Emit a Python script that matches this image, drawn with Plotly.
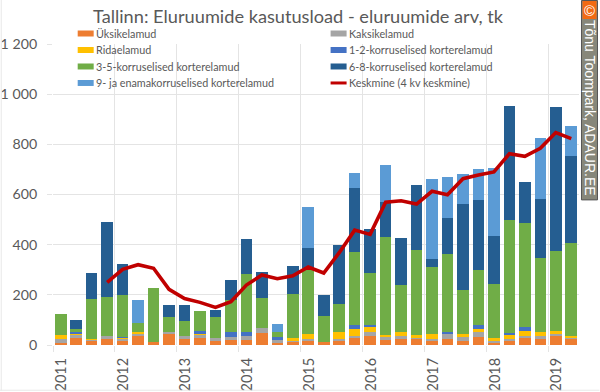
import plotly.graph_objects as go

TITLE = "Tallinn: Eluruumide kasutusload - eluruumide arv, tk"
YEARS = ["2011", "2012", "2013", "2014", "2015", "2016", "2017", "2018", "2019"]
Y_TICKS = [0, 200, 400, 600, 800, 1000, 1200]
Y_LABELS = ["0", "200", "400", "600", "800", "1 000", "1 200"]
QUARTERS = list(range(34))

names = ["Üksikelamud", "Kaksikelamud", "Ridaelamud", "1-2-korruselised korterelamud",
         "3-5-korruselised korterelamud", "6-8-korruselised korterelamud",
         "9- ja enamakorruselised korterelamud"]
line_name = "Keskmine (4 kv keskmine)"
colors = ["#ED7D31", "#A5A5A5", "#FFC000", "#4472C4", "#70AD47", "#255E91", "#5B9BD5"]

yksik = [9, 29, 17, 24, 16, 36, 13, 45, 24, 29, 16, 20, 20, 49, 8, 15, 16, 12, 16, 29, 37, 21, 25,
         24, 16, 24, 17, 31, 8, 17, 29, 25, 36, 24]
kaksik = [15, 11, 3, 12, 11, 11, 0, 7, 12, 11, 12, 12, 16, 19, 12, 1, 9, 0, 9, 8, 16, 11, 11,
          5, 7, 23, 13, 21, 7, 7, 7, 11, 7, 5]
rida = [17, 3, 4, 0, 2, 5, 0, 0, 0, 4, 0, 0, 0, 0, 0, 12, 19, 0, 27, 27, 19, 8, 15,
        11, 20, 0, 15, 12, 11, 17, 21, 15, 12, 7]
k12 = [0, 9, 0, 0, 3, 0, 0, 0, 0, 12, 0, 20, 16, 0, 11, 0, 0, 0, 0, 15, 7, 0, 0,
       0, 0, 5, 0, 16, 0, 5, 13, 0, 0, 0]
k35 = [84, 12, 160, 155, 169, 35, 214, 60, 60, 81, 85, 128, 231, 119, 20, 175, 262, 104, 112, 292, 210, 390, 187,
       339, 269, 312, 173, 219, 217, 453, 415, 295, 319, 372]
k68 = [0, 37, 105, 298, 122, 0, 0, 48, 63, 0, 27, 80, 140, 104, 0, 112, 82, 82, 233, 255, 174, 140, 187,
       258, 31, 141, 344, 279, 193, 452, 163, 237, 575, 347]
k9 = [0, 0, 0, 0, 0, 93, 0, 0, 0, 0, 0, 0, 0, 0, 33, 0, 163, 0, 0, 59, 0, 148, 0,
      0, 319, 163, 118, 122, 270, 0, 0, 243, 0, 117]
keskmine = [None, None, None, 250, 302, 320, 306, 222, 185, 170, 150, 173, 239, 279, 264, 276, 311, 287, 368, 458,
            441, 569, 575, 562, 613, 599, 663, 678, 690, 763, 752, 784, 847, 823]
series = [yksik, kaksik, rida, k12, k35, k68, k9]

W, H = 600, 392
L, R, T, B = 53.3, 579.5, 44, 345.2
GRID = "#E4E4E4"
TXT = "#595959"
FONT = "Lato"


def px(x):
    return (x - L) / (R - L)


def py(y):
    return (B - y) / (B - T)


fig = go.Figure()
for n, c, v in zip(names, colors, series):
    fig.add_bar(x=QUARTERS, y=v, name=n, marker=dict(color=c, line=dict(width=0)), showlegend=False)
fig.add_scatter(x=QUARTERS, y=keskmine, name=line_name, mode="lines", showlegend=False,
                line=dict(color="#C00000", width=3.6, shape="linear"))

shapes, annots = [], []


def rect(x0, y0, x1, y1, fill, line=None, lw=0):
    shapes.append(dict(type="rect", xref="paper", yref="paper", x0=px(x0), x1=px(x1), y0=py(y0), y1=py(y1),
                       fillcolor=fill, line=dict(color=line or fill, width=lw), layer="above"))


def text(x, y, s, size, color=TXT, family=FONT, xanchor="left", angle=0):
    annots.append(dict(xref="paper", yref="paper", x=px(x), y=py(y), text=s, showarrow=False, xanchor=xanchor,
                       yanchor="middle", textangle=angle, font=dict(size=size, color=color, family=family),
                       borderpad=0, borderwidth=0))


# Legend, two columns
rows = [33.5, 50, 66.5, 83]
entries = list(zip(names, colors)) + [(line_name, "#C00000")]
for i, (n, c) in enumerate(entries):
    col = i % 2
    row = i // 2
    x0 = 78 if col == 0 else 331
    hh = 3 if i < 7 else 1.5
    rect(x0, rows[row] - hh, x0 + 16, rows[row] + hh, c)
    text(x0 + 18, rows[row], n, 10.8)

# Outer frame
rect(1, 0, 2, 391, "#E8E8E8")
rect(0, 390, 600, 391, "#E8E8E8")

# Copyright strip
rect(582, 0.5, 598, 200, "#87877A", "#555555", 1)
rect(583, 1, 597, 19, "#F26A12")
text(590, 10.5, "©", 15, "#FFFFFF", "Liberation Sans", "center")
text(590, 108.5, "Tõnu Toompark, ADAUR.EE", 14, "#FFFFFF", "Liberation Sans", "center", 90)

fig.update_layout(
    width=W, height=H, autosize=False, barmode="stack", bargap=0.25,
    paper_bgcolor="white", plot_bgcolor="white", showlegend=False,
    margin=dict(l=L, r=W - R, t=T, b=H - B, pad=0, autoexpand=False),
    title=dict(text=TITLE, x=298 / W, xanchor="center", y=1 - 17 / H, yanchor="middle",
               font=dict(size=18.2, color=TXT, family=FONT)),
    shapes=shapes, annotations=annots,
    font=dict(family=FONT, color=TXT),
    xaxis=dict(range=[-0.5, 33.5], showgrid=False, zeroline=False, showline=False,
               tickmode="array", tickvals=[q for q in QUARTERS if q % 4 == 0], ticktext=YEARS,
               tickangle=-90, ticks="", ticklabelstandoff=9, ticklabelshift=1, tickfont=dict(size=14.5, color=TXT),
               minor=dict(tickmode="array", tickvals=[q - 0.5 for q in QUARTERS if q % 4 == 0],
                          showgrid=True, gridcolor=GRID, gridwidth=1, ticks="outside", ticklen=6,
                          tickcolor=GRID, tickwidth=1)),
    yaxis=dict(range=[0, 1200], tickmode="array", tickvals=Y_TICKS, ticktext=Y_LABELS, showgrid=True,
               gridcolor=GRID, gridwidth=1, zeroline=False, showline=False, ticks="outside", ticklen=5,
               tickcolor=GRID, tickwidth=1, ticklabelstandoff=7, tickfont=dict(size=14.2, color=TXT)),
)
fig.write_html("out.html", config={"displayModeBar": False},
               post_script="document.body.style.margin='0';document.body.style.overflow='hidden';")
